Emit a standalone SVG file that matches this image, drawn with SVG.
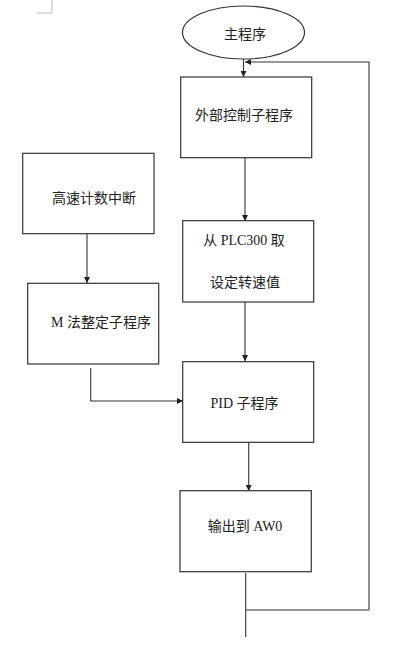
<svg xmlns="http://www.w3.org/2000/svg" width="420" height="664" viewBox="0 0 420 664">
<defs>
<style>
.box{fill:#fff;stroke:#333;stroke-width:1.2}
.ln{fill:none;stroke:#333;stroke-width:1.1}
.t{font-family:"Liberation Serif","Noto Sans CJK SC",serif;font-size:14px;fill:#222;text-anchor:middle}
</style>
<marker id="ah" viewBox="0 0 10 10" refX="10" refY="5" markerWidth="6" markerHeight="6" orient="auto" markerUnits="userSpaceOnUse">
<path d="M0,0 L10,5 L0,10 z" fill="#222"/>
</marker>
</defs>
<rect width="420" height="664" fill="#fff"/>
<path d="M52,0 V13 H37" fill="none" stroke="#bbb" stroke-width="1"/>
<g id="connectors">
<path class="ln" d="M243.5,59 V77" marker-end="url(#ah)"/>
<path class="ln" d="M369,610 V62 H245" marker-end="url(#ah)"/>
<path class="ln" d="M245,158 V221" marker-end="url(#ah)"/>
<path class="ln" d="M245,302 V361" marker-end="url(#ah)"/>
<path class="ln" d="M87,234 V283" marker-end="url(#ah)"/>
<path class="ln" d="M90.7,368 V401 H183" marker-end="url(#ah)"/>
<path class="ln" d="M248.7,442 V491" marker-end="url(#ah)"/>
<path class="ln" d="M245.7,573 V637 M245.7,610 H369"/>
</g>
<g id="main">
<ellipse class="box" cx="243.5" cy="32.5" rx="61" ry="26.5"/>
<text class="t" x="245" y="39">主程序</text>
</g>
<g id="external">
<rect class="box" x="180.7" y="77" width="131" height="80.7"/>
<text class="t" x="244" y="120">外部控制子程序</text>
</g>
<g id="plc">
<rect class="box" x="182.7" y="220.7" width="131" height="81.3"/>
<text class="t" x="244" y="245">从 PLC300 取</text>
<text class="t" x="245" y="287">设定转速值</text>
</g>
<g id="hsc">
<rect class="box" x="22.7" y="153.3" width="131.3" height="80.4"/>
<text class="t" x="94" y="203">高速计数中断</text>
</g>
<g id="mmethod">
<rect class="box" x="27.7" y="283.3" width="131" height="80.7"/>
<text class="t" x="101" y="327">M 法整定子程序</text>
</g>
<g id="pid">
<rect class="box" x="182.7" y="361.7" width="131" height="80.6"/>
<text class="t" x="244.5" y="408">PID 子程序</text>
</g>
<g id="aw0">
<rect class="box" x="180" y="490.7" width="131.3" height="81"/>
<text class="t" x="245" y="531">输出到 AW0</text>
</g>
</svg>
